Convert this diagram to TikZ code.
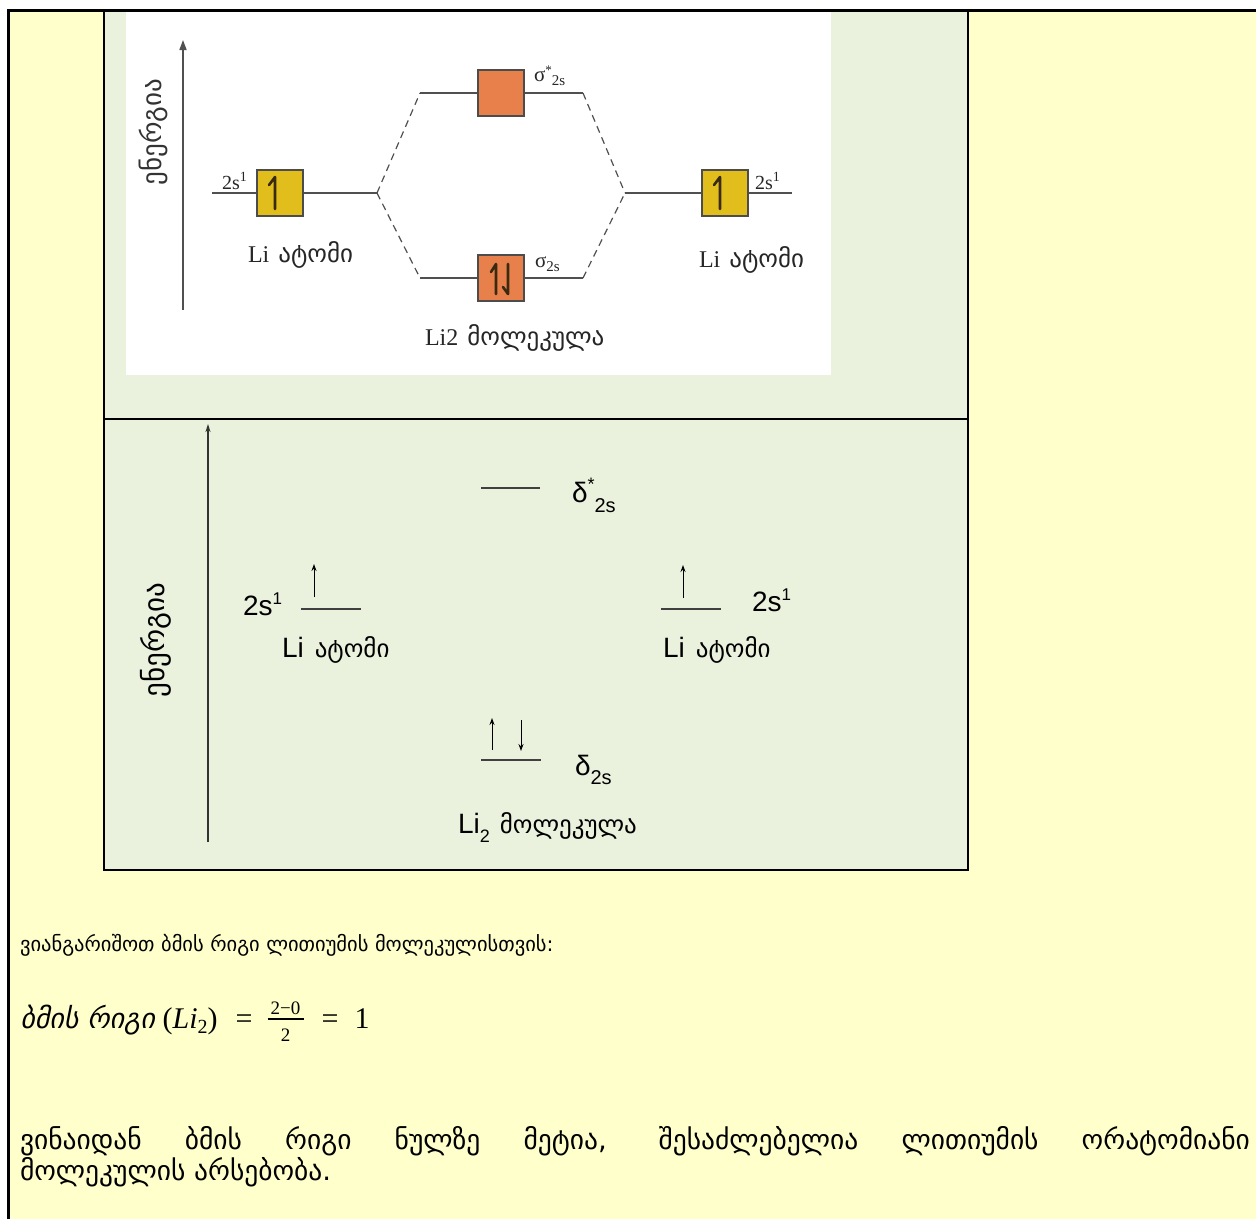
\documentclass[tikz,border=0pt]{standalone}
\usepackage{fontspec}
\usetikzlibrary{arrows.meta}
\setmainfont{Liberation Serif}
\newfontfamily\geofont{DejaVu Sans}
\newfontfamily\geoslant[FakeSlant=0.2]{DejaVu Sans}
\newfontfamily\sansfont{Liberation Sans}
\newfontfamily\seriffont{Liberation Serif}
\definecolor{pagebg}{HTML}{FFFFCC}
\definecolor{panelbg}{HTML}{EAF1DD}
\definecolor{boxgold}{HTML}{E2BE1C}
\definecolor{boxorange}{HTML}{E8804C}
\definecolor{inkgray}{HTML}{505050}
\definecolor{spinink}{HTML}{3A2A10}
\newcommand\fs[1]{\fontsize{#1}{#1}\selectfont}

\begin{document}
\begin{tikzpicture}[x=1pt,y=-1pt,
  lvlA/.style={draw=inkgray, line width=1.4pt},
  lvlB/.style={draw=black!75, line width=1.2pt},
  orbbox/.style={draw=black!70, line width=1.2pt, minimum width=46pt, minimum height=46pt, inner sep=0pt},
  corr/.style={draw=inkgray, line width=1.2pt, dash pattern=on 7pt off 5pt},
  harp/.style={draw=spinink, line width=2.6pt, line cap=round, line join=round},
  spin/.style={draw=black, line width=1pt, -{Stealth[length=7pt,width=5pt]}},
  panelrule/.style={draw=black, line width=2.6pt},
  lbl/.style={inner sep=0pt, outer sep=0pt, anchor=base west},
  mathtxt/.style={inner sep=0pt, outer sep=0pt, font=\seriffont\fs{30}},
]
\useasboundingbox (0,0) rectangle (1256,1219);

% page, panels and rules
\fill[white] (0,0) rectangle (1256,1219);
\fill[pagebg] (8,10) rectangle (1256,1219);
\fill[panelbg] (104,10) rectangle (968,870);
\fill[white] (126,12) rectangle (831,375);
\draw[panelrule] (104,10) -- (104,870) -- (968,870) -- (968,10);
\draw[panelrule] (104,419) -- (968,419);
\draw[draw=black, line width=3pt] (8,1219) -- (8,10) -- (1256,10);

% ---------- upper panel: orbital boxes
\coordinate (axA0) at (183,310);
\coordinate (axA1) at (183,40);
\draw[line width=1.6pt, draw=inkgray, -{Triangle[length=10pt,width=7pt]}] (axA0) -- (axA1);
\node[rotate=90, font=\geofont\fs{27}, text=black!80] (enA) at (153,132) {ენერგია};

\coordinate (L0) at (212,193); \coordinate (L1) at (377,193);
\coordinate (R0) at (625,193); \coordinate (R1) at (792,193);
\coordinate (U0) at (420,93);  \coordinate (U1) at (583,93);
\coordinate (D0) at (420,278); \coordinate (D1) at (583,278);
\draw[lvlA] (L0) -- (L1);
\draw[lvlA] (R0) -- (R1);
\draw[lvlA] (U0) -- (U1);
\draw[lvlA] (D0) -- (D1);
\draw[corr] (L1) -- (U0);
\draw[corr] (L1) -- (D0);
\draw[corr] (U1) -- (R0);
\draw[corr] (D1) -- (R0);

\node[orbbox, fill=boxgold] (bL) at (280,193) {};
\node[orbbox, fill=boxgold] (bR) at (725,193) {};
\node[orbbox, fill=boxorange] (bU) at (501,93) {};
\node[orbbox, fill=boxorange] (bD) at (501,278) {};

% electrons drawn as half-arrows
\draw[harp] (bL) ++(-11,-8) -- ++(6,-8) -- ++(0,32);
\draw[harp] (bR) ++(-11,-8) -- ++(6,-8) -- ++(0,32);
\draw[harp] (bD) ++(-10,-6) -- ++(5,-8) -- ++(0,30);
\draw[harp] (bD) ++(7,-14) -- ++(0,30) -- ++(-5,-7);

\node[lbl, font=\seriffont\fs{20}, text=black!85] (cfgL) at (222,189) {2s\textsuperscript{1}};
\node[lbl, font=\seriffont\fs{20}, text=black!85] (cfgR) at (755,189) {2s\textsuperscript{1}};
\node[lbl, font=\seriffont\fs{21}, text=black!85] (sgU) at (534,81) {σ\raisebox{7pt}{\fs{13}*}\raisebox{-4pt}{\fs{15}2s}};
\node[lbl, font=\seriffont\fs{21}, text=black!85] (sgD) at (535,267) {σ\raisebox{-4pt}{\fs{15}2s}};
\node[lbl, text=black!85] (atA) at (248,262) {{\seriffont\fs{24}Li}\hspace{9pt}{\geofont\fs{25}ატომი}};
\node[lbl, text=black!85] (atB) at (699,267) {{\seriffont\fs{24}Li}\hspace{9pt}{\geofont\fs{25}ატომი}};
\node[lbl, text=black!85] (molA) at (425,345) {{\seriffont\fs{24}Li2}\hspace{9pt}{\geofont\fs{25}მოლეკულა}};

% ---------- lower panel: level diagram
\coordinate (axB0) at (208,842);
\coordinate (axB1) at (208,424);
\draw[line width=1.3pt, draw=black!80, -{Stealth[length=8pt,width=5pt]}] (axB0) -- (axB1);
\node[rotate=90, font=\geofont\fs{29}] (enB) at (156,640) {ენერგია};

\coordinate (sU0) at (481,488); \coordinate (sU1) at (540,488);
\coordinate (aL0) at (301,609); \coordinate (aL1) at (361,609);
\coordinate (aR0) at (661,609); \coordinate (aR1) at (721,609);
\coordinate (sD0) at (481,760); \coordinate (sD1) at (541,760);
\draw[lvlB] (sU0) -- (sU1);
\draw[lvlB] (aL0) -- (aL1);
\draw[lvlB] (aR0) -- (aR1);
\draw[lvlB] (sD0) -- (sD1);

\coordinate (eL0) at (314,597); \coordinate (eL1) at (314,564);
\coordinate (eR0) at (683,598); \coordinate (eR1) at (683,565);
\coordinate (eU0) at (492,750); \coordinate (eU1) at (492,718);
\coordinate (eD0) at (521,720); \coordinate (eD1) at (521,751);
\draw[spin] (eL0) -- (eL1);
\draw[spin] (eR0) -- (eR1);
\draw[spin] (eU0) -- (eU1);
\draw[spin] (eD0) -- (eD1);

\node[lbl, font=\sansfont\fs{28}] (cfgB1) at (243,615) {2s\raisebox{11pt}{\fs{17}1}};
\node[lbl, font=\sansfont\fs{28}] (cfgB2) at (752,611) {2s\raisebox{11pt}{\fs{17}1}};
\node[lbl] (atC) at (282,657) {{\sansfont\fs{28}Li}\hspace{11pt}{\geofont\fs{25}ატომი}};
\node[lbl] (atD) at (663,657) {{\sansfont\fs{28}Li}\hspace{11pt}{\geofont\fs{25}ატომი}};
\node[lbl, font=\sansfont\fs{28}] (dsU) at (572,502) {δ\raisebox{12pt}{\fs{18}*}\raisebox{-10pt}{\fs{20}2s}};
\node[lbl, font=\sansfont\fs{28}] (dsD) at (575,775) {δ\raisebox{-9pt}{\fs{20}2s}};
\node[lbl] (molB) at (458,833) {{\sansfont\fs{28}Li\raisebox{-9pt}{\fs{18}2}}\hspace{10pt}{\geofont\fs{25}მოლეკულა}};

% ---------- text below the panel
\node[lbl, font=\geofont\fs{20.5}] (txt1) at (20,951) {ვიანგარიშოთ ბმის რიგი ლითიუმის მოლეკულისთვის:};

% bond order formula
\node[lbl, font=\geoslant\fs{28}] (fmlA) at (20,1028) {ბმის რიგი};
\node[mathtxt, anchor=base west] (fmlB) at ([xshift=8pt]fmlA.base east) {(\textit{Li}\raisebox{-5pt}{\fs{20}2})};
\node[mathtxt, anchor=base west] (eq1) at ([xshift=18pt]fmlB.base east) {=};
\coordinate (barL) at ([xshift=15pt,yshift=9pt]eq1.base east);
\coordinate (barR) at ([xshift=51pt,yshift=9pt]eq1.base east);
\draw[line width=1.1pt] (barL) -- (barR);
\node[inner sep=0pt, anchor=base, font=\seriffont\fs{19}] (fnum) at ([xshift=33pt,yshift=14pt]eq1.base east) {2−0};
\node[inner sep=0pt, anchor=base, font=\seriffont\fs{19}] (fden) at ([xshift=33pt,yshift=-13pt]eq1.base east) {2};
\node[mathtxt, anchor=base west] (eq2) at ([xshift=18pt]barR |- eq1.base) {=};
\node[mathtxt, anchor=base west] (one) at ([xshift=16pt]eq2.base east) {1};

\node[lbl, font=\geofont\fs{27.5}] (txt2) at (20,1149) {\makebox[1230pt][s]{ვინაიდან ბმის რიგი ნულზე მეტია, შესაძლებელია ლითიუმის ორატომიანი}};
\node[lbl, font=\geofont\fs{27.5}] (txt3) at (20,1180) {მოლეკულის არსებობა.};
\end{tikzpicture}
\end{document}
